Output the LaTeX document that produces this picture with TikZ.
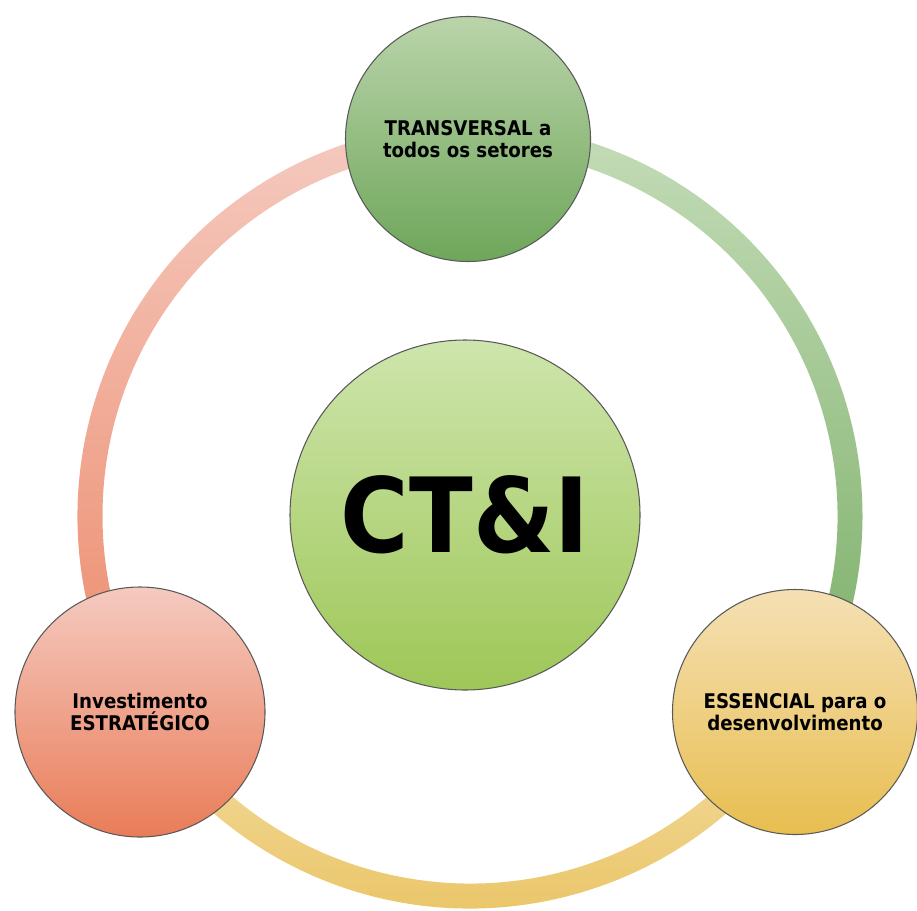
\documentclass[tikz,border=0pt]{standalone}
\usepackage{fontspec}
\setmainfont{DejaVu Sans Condensed}
\usetikzlibrary{calc}
\definecolor{ringGreenTop}{RGB}{196,220,184}
\definecolor{ringGreenBot}{RGB}{122,174,102}
\definecolor{ringGoldTop}{RGB}{244,222,166}
\definecolor{ringGoldBot}{RGB}{232,192,90}
\definecolor{ringRoseTop}{RGB}{245,202,192}
\definecolor{ringRoseBot}{RGB}{236,138,106}
\definecolor{topTop}{RGB}{186,212,170}
\definecolor{topBot}{RGB}{110,166,90}
\definecolor{midTop}{RGB}{206,229,172}
\definecolor{midBot}{RGB}{158,199,88}
\definecolor{rightTop}{RGB}{245,224,180}
\definecolor{rightBot}{RGB}{232,190,80}
\definecolor{leftTop}{RGB}{245,202,192}
\definecolor{leftBot}{RGB}{233,124,88}
\tikzset{
  bubble/.style={circle, draw=black!65, line width=0.6pt, minimum size=4.9cm,
    align=center, font=\bfseries\fontsize{11.5}{12.5}\selectfont, inner sep=0pt},
}
\newcommand{\ringpart}[4]{%
  \path[top color=#3, bottom color=#4]
    ($(ring)+(#1:7.85)$) arc (#1:#2:7.85) -- ($(ring)+(#2:7.35)$) arc (#2:#1:7.35) -- cycle;}

\begin{document}
\begin{tikzpicture}
	%%%%% START %%%%%
	\useasboundingbox (0,0) rectangle (18.34,18.20);
	\coordinate (ring) at (9.40,7.88);
	
	\ringpart{90}{-31}{ringGreenTop}{ringGreenBot}
	\ringpart{-31}{-149}{ringGoldTop}{ringGoldBot}
	\ringpart{211}{90}{ringRoseTop}{ringRoseBot}
	
	\node[bubble, top color=topTop, bottom color=topBot] (transversal) at (9.36,15.42) {TRANSVERSAL a\\todos os setores};
	\node[bubble, top color=rightTop, bottom color=rightBot] (essencial) at (15.90,3.96) {ESSENCIAL para o\\desenvolvimento};
	\node[bubble, minimum size=5cm, top color=leftTop, bottom color=leftBot] (investimento) at (2.80,3.96) {Investimento\\ESTRATÉGICO};
	
	\node[bubble, minimum size=7cm, top color=midTop, bottom color=midBot,
	  font=\bfseries\fontsize{59}{60}\selectfont] (cti) at (9.30,7.90) {CT\&I};
	%%%%% END %%%%%
\end{tikzpicture}
\end{document}
